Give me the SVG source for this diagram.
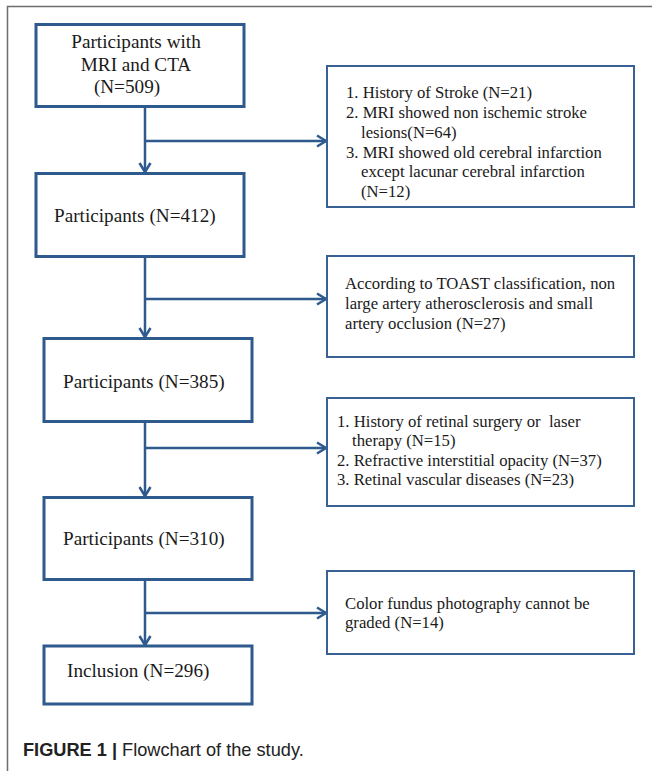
<svg xmlns="http://www.w3.org/2000/svg" width="652" height="771" viewBox="0 0 652 771">
<style>
.main{fill:#fff;stroke:#2e5a8e;stroke-width:3}
.side{fill:#fff;stroke:#3a6194;stroke-width:2}
.conn{fill:none;stroke:#2e5a8e;stroke-width:2.5}
.tl{font-family:"Liberation Serif","Times New Roman",serif;font-size:19.2px;fill:#1a1a1a}
.ts{font-family:"Liberation Serif","Times New Roman",serif;font-size:16.7px;fill:#1a1a1a}
.cap{font-family:"Liberation Sans",Arial,sans-serif;font-size:18.2px;fill:#222}
</style>
<defs>
<marker id="arr" markerUnits="userSpaceOnUse" markerWidth="14" markerHeight="14" viewBox="0 0 14 14" refX="11" refY="7" orient="auto">
<path d="M2,1.5 L11,7 L2,12.5" fill="none" stroke="#2e5a8e" stroke-width="2.5"/>
</marker>
</defs>
<rect width="652" height="771" fill="#fff"/>
<path d="M7.5,771 L7.5,6.5 L652,6.5" fill="none" stroke="#6e6e6e" stroke-width="1.5"/>
<g id="connectors">
<path class="conn" d="M145,107 L145,172" marker-end="url(#arr)"/>
<path class="conn" d="M145,141 L326,141" marker-end="url(#arr)"/>
<path class="conn" d="M145,257 L145,337" marker-end="url(#arr)"/>
<path class="conn" d="M145,299 L326,299" marker-end="url(#arr)"/>
<path class="conn" d="M145,422 L145,496" marker-end="url(#arr)"/>
<path class="conn" d="M145,448 L326,448" marker-end="url(#arr)"/>
<path class="conn" d="M145,580 L145,645" marker-end="url(#arr)"/>
<path class="conn" d="M145,613 L326,613" marker-end="url(#arr)"/>
</g>
<g id="n509">
<rect class="main" x="36" y="24.5" width="208" height="82"/>
<text class="tl" text-anchor="middle"><tspan x="136" y="48">Participants with</tspan><tspan x="136" y="71">MRI and CTA</tspan><tspan x="127" y="93">(N=509)</tspan></text>
</g>
<g id="n412">
<rect class="main" x="36" y="173.5" width="208" height="83"/>
<text class="tl" x="54" y="222">Participants (N=412)</text>
</g>
<g id="n385">
<rect class="main" x="44" y="338.5" width="208" height="83"/>
<text class="tl" x="63" y="388">Participants (N=385)</text>
</g>
<g id="n310">
<rect class="main" x="44" y="497.5" width="208" height="82"/>
<text class="tl" x="63" y="545">Participants (N=310)</text>
</g>
<g id="n296">
<rect class="main" x="44" y="646" width="208" height="58"/>
<text class="tl" x="67" y="677">Inclusion (N=296)</text>
</g>
<g id="ex1">
<rect class="side" x="327" y="66" width="307" height="141"/>
<text class="ts"><tspan x="346" y="98">1. History of Stroke (N=21)</tspan><tspan x="346" y="118">2. MRI showed non ischemic stroke</tspan><tspan x="361" y="137.5">lesions(N=64)</tspan><tspan x="346" y="157.5">3. MRI showed old cerebral infarction</tspan><tspan x="361" y="177">except lacunar cerebral infarction</tspan><tspan x="361" y="197">(N=12)</tspan></text>
</g>
<g id="ex2">
<rect class="side" x="327" y="256" width="307" height="101"/>
<text class="ts"><tspan x="345" y="289">According to TOAST classification, non</tspan><tspan x="345" y="309">large artery atherosclerosis and small</tspan><tspan x="345" y="329">artery occlusion (N=27)</tspan></text>
</g>
<g id="ex3">
<rect class="side" x="327" y="398" width="307" height="108"/>
<text class="ts"><tspan x="337" y="427">1. History of retinal surgery or &#160;laser</tspan><tspan x="352" y="446">therapy (N=15)</tspan><tspan x="337" y="466">2. Refractive interstitial opacity (N=37)</tspan><tspan x="337" y="485">3. Retinal vascular diseases (N=23)</tspan></text>
</g>
<g id="ex4">
<rect class="side" x="327" y="571" width="307" height="83"/>
<text class="ts"><tspan x="345" y="608.5">Color fundus photography cannot be</tspan><tspan x="345" y="628">graded (N=14)</tspan></text>
</g>
<text class="cap" x="23" y="756"><tspan font-weight="bold">FIGURE 1 |</tspan> Flowchart of the study.</text>
</svg>
